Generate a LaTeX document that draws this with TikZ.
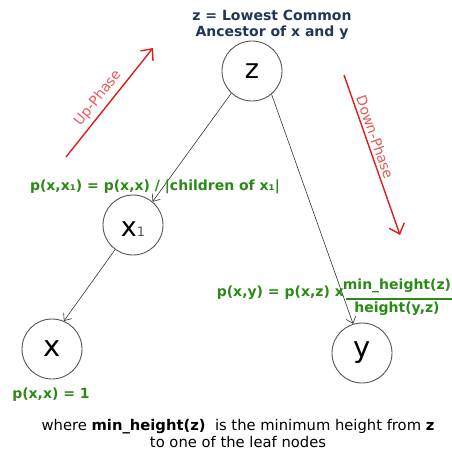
\documentclass[tikz,border=0pt]{standalone}
\usepackage{fontspec}
\setmainfont{DejaVu Sans}
\usetikzlibrary{arrows.meta}
\definecolor{navy}{HTML}{22355A}
\definecolor{grn}{HTML}{2B8A16}
\definecolor{redarr}{HTML}{E01B1B}
\definecolor{redtxt}{HTML}{E85A5A}
\definecolor{circ}{HTML}{555555}
\definecolor{edgec}{HTML}{333333}
\begin{document}
\begin{tikzpicture}[x=1pt,y=-1pt,
  treenode/.style={circle, draw=circ, line width=0.9pt, minimum size=60pt, inner sep=0pt, font=\fontsize{27}{27}\selectfont},
  treeedge/.style={draw=edgec, line width=0.6pt, -{Straight Barb[length=6pt,width=10pt]}},
  phase/.style={draw=redarr, line width=1.4pt, -{Straight Barb[length=9pt,width=16pt]}},
  phasetext/.style={text=redtxt, font=\fontsize{14}{14}\selectfont, inner sep=0pt},
  eq/.style={text=grn, font=\bfseries\fontsize{14}{14}\selectfont, inner sep=0pt},
]
\useasboundingbox (0,0) rectangle (452,450);

% title
\node[anchor=base, align=center, text=navy, font=\bfseries\fontsize{14}{16}\selectfont, inner sep=0pt] (title) at (272,36) {z = Lowest Common\\Ancestor of x and y};

% tree nodes
\node[treenode] (z) at (252,71) {z};
\node[treenode, text height=22pt] (x1) at (133,225) {x{\fontsize{13}{13}\selectfont\color{circ}1}};
\node[treenode, font=\fontsize{29}{29}\selectfont] (x) at (52,349) {x};
\node[treenode, font=\fontsize{29}{29}\selectfont] (y) at (362,353) {y};

% edges
\draw[treeedge] (z.227) -- (x1.50);
\draw[treeedge] (x1.234) -- (x.67);
\draw[treeedge] (z.-50) -- (y.107);

% phase arrows
\coordinate (upS) at (66,157);
\coordinate (upE) at (153,48);
\draw[phase] (upS) -- (upE);
\node[phasetext, rotate=51.4] (uplabel) at (98,98) {Up-Phase};
\coordinate (dnS) at (344,75);
\coordinate (dnE) at (400,235);
\draw[phase] (dnS) -- (dnE);
\node[phasetext, rotate=-70.7] (dnlabel) at (375,137) {Down-Phase};

% equations
\node[eq, anchor=base] (px1) at (155,190) {p(x,x₁) = p(x,x) / |children of x₁|};
\node[eq, anchor=base] (pxx) at (51,398) {p(x,x) = 1};
\node[eq, anchor=base east] (pxy) at (344,296) {p(x,y) = p(x,z) x};
\node[eq, anchor=base] (num) at (397,289) {min\_height(z)};
\node[eq, anchor=base] (den) at (397,312) {height(y,z)};
\coordinate (fracL) at (346,299);
\coordinate (fracR) at (452,299);
\draw[grn, line width=1.6pt] (fracL) -- (fracR);

% note
\node[anchor=base, align=center, font=\fontsize{14.75}{17}\selectfont, inner sep=0pt] (note) at (238,447) {where \textbf{min\_height(z)}\ \ is the minimum height from \textbf{z}\\to one of the leaf nodes};
\end{tikzpicture}
\end{document}
